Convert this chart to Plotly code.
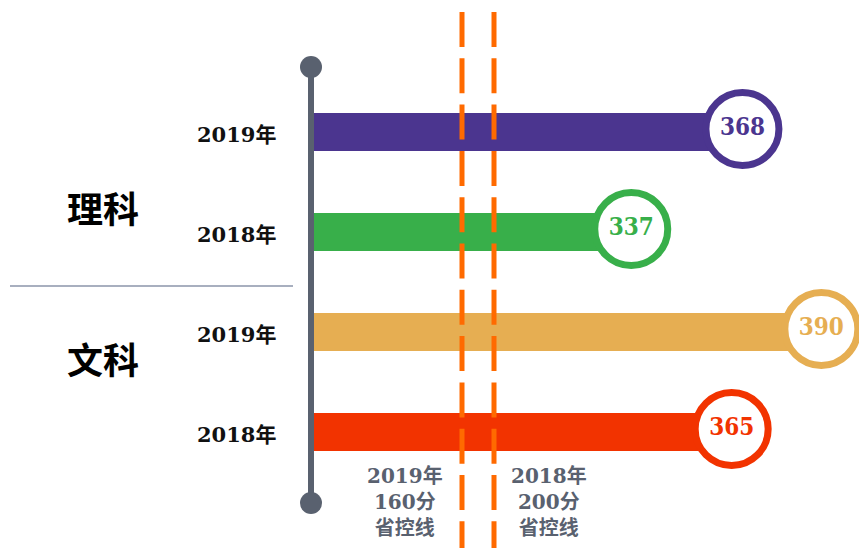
import plotly.graph_objects as go

# ---- data ----
groups = ["理科", "理科", "文科", "文科"]
years = ["2019年", "2018年", "2019年", "2018年"]
scores = [368, 337, 390, 365]
colors = ["#4B358F", "#38AF4A", "#E6AE52", "#F23300"]
control_years = ["2019年", "2018年"]
control_scores = [160, 200]
control_labels = ["2019年<br>160分<br>省控线", "2018年<br>200分<br>省控线"]
group_names = ["理科", "文科"]

W, H = 859, 548
BAR_BASE = 248.5
X_RANGE = [161, 400.5]
X2_RANGE = [-417.5, 656.25]
Y_RANGE = [4.16, -1.32]
GRAY = "#59616F"
DASH = "#FF6A00"

rows = list(range(len(scores)))

fig = go.Figure()

# bars
fig.add_trace(go.Bar(
    y=rows, x=[s - BAR_BASE for s in scores], base=BAR_BASE,
    orientation="h", width=0.38,
    marker=dict(color=colors, line=dict(width=0)),
    hoverinfo="skip", showlegend=False,
))

# end circles with values
fig.add_trace(go.Scatter(
    y=[r - 0.03 for r in rows], x=scores, mode="markers+text",
    marker=dict(symbol="circle", size=73, color="white",
                line=dict(color=colors, width=7)),
    text=[str(s) for s in scores], textposition="middle center",
    textfont=dict(family="DejaVu Serif Condensed, DejaVu Serif", size=24,
                  color=colors, weight="bold"),
    hoverinfo="skip", showlegend=False,
))

# invisible trace to anchor second axis
fig.add_trace(go.Scatter(x=control_scores, y=[None, None], xaxis="x2",
                         mode="markers", showlegend=False, hoverinfo="skip"))

shapes = []
# control lines (dashed) on secondary axis
for cs in control_scores:
    shapes.append(dict(type="line", xref="x2", yref="paper",
                       x0=cs, x1=cs, y0=1 - 12 / H, y1=0,
                       line=dict(color=DASH, width=5, dash="35px,11.3px"),
                       layer="above"))

# vertical gray stem with end dots
sx = 311 / W
shapes.append(dict(type="line", xref="paper", yref="paper",
                   x0=sx, x1=sx, y0=1 - 67 / H, y1=1 - 503 / H,
                   line=dict(color=GRAY, width=6), layer="above"))
for cy in (67, 503):
    shapes.append(dict(type="circle", xref="paper", yref="paper",
                       x0=(311 - 11) / W, x1=(311 + 11) / W,
                       y0=1 - (cy + 11) / H, y1=1 - (cy - 11) / H,
                       fillcolor=GRAY, line=dict(width=0), layer="above"))

# separator line
shapes.append(dict(type="line", xref="paper", yref="paper",
                   x0=10 / W, x1=293 / W, y0=1 - 286 / H, y1=1 - 286 / H,
                   line=dict(color="#A8AFBF", width=2), layer="above"))

annotations = []
for r, yl in zip(rows, years):
    annotations.append(dict(x=278 / W, xref="paper", y=r + 0.02, yref="y",
                            text=yl, showarrow=False, xanchor="right",
                            yanchor="middle",
                            font=dict(family="DejaVu Serif, Noto Sans CJK SC",
                                      size=21, color="#111111", weight="bold")))

for gname, py in zip(group_names, (207, 358)):
    annotations.append(dict(x=103 / W, xref="paper", y=1 - py / H, yref="paper",
                            text=gname, showarrow=False, xanchor="center",
                            yanchor="middle",
                            font=dict(family="Noto Sans CJK SC", size=36,
                                      color="#000000", weight="bold")))

for lab, px in zip(control_labels, (405, 549)):
    annotations.append(dict(x=px / W, xref="paper", y=1 - 502 / H, yref="paper",
                            text=lab, showarrow=False, xanchor="center",
                            yanchor="middle",
                            font=dict(family="DejaVu Serif, Noto Sans CJK SC",
                                      size=20, color=GRAY, weight="bold")))

fig.update_layout(
    width=W, height=H,
    margin=dict(l=0, r=0, t=0, b=0),
    paper_bgcolor="white", plot_bgcolor="white",
    xaxis=dict(range=X_RANGE, visible=False, fixedrange=True),
    xaxis2=dict(range=X2_RANGE, visible=False, overlaying="x", fixedrange=True),
    yaxis=dict(range=Y_RANGE, visible=False, fixedrange=True),
    shapes=shapes, annotations=annotations,
    showlegend=False,
)

fig.write_html("out.html",
               config={"displayModeBar": False, "staticPlot": True},
               post_script="document.body.style.margin='0px';document.body.style.overflow='hidden';")
